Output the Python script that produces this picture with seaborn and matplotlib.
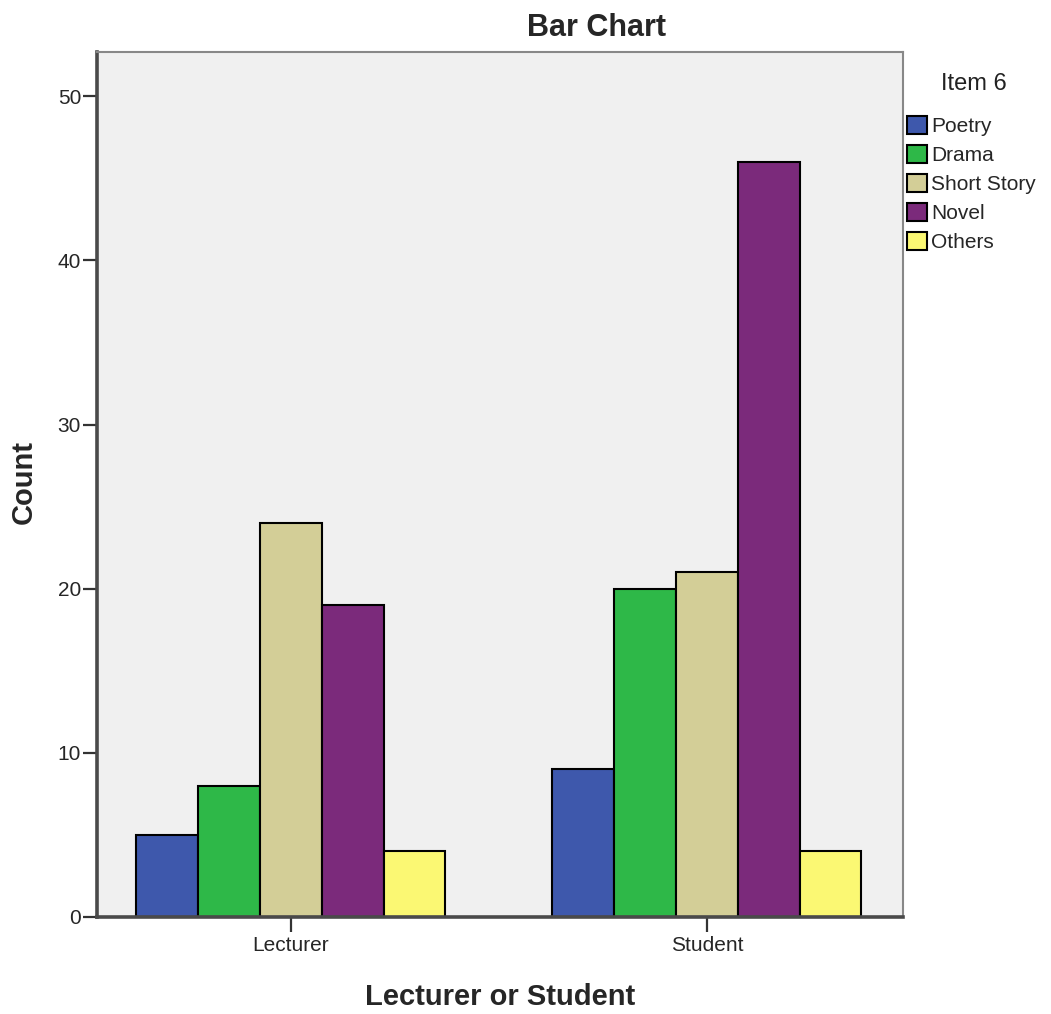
import pandas as pd
import matplotlib.pyplot as plt
import seaborn as sns

groups = ['Lecturer', 'Student']
items = ['Poetry', 'Drama', 'Short Story', 'Novel', 'Others']
lecturer_counts = [5, 8, 24, 19, 4]
student_counts = [9, 20, 21, 46, 4]
colors = ['#3E58AC', '#2EB848', '#D3CE97', '#7B2A7B', '#FBF873']


def make_plot():
    rows = []
    for grp, counts in zip(groups, [lecturer_counts, student_counts]):
        for item, c in zip(items, counts):
            rows.append({'Group': grp, 'Item': item, 'Count': c})
    df = pd.DataFrame(rows)

    sns.set_theme(style="white")
    plt.rcParams['font.family'] = ['Liberation Sans', 'DejaVu Sans']

    fig = plt.figure(figsize=(10.51, 10.14), dpi=100)
    ax = fig.add_axes([0.0923, 0.0957, 0.7667, 0.853])
    ax.set_facecolor('#F0F0F0')

    sns.barplot(data=df, x='Group', y='Count', hue='Item', order=groups,
                hue_order=items, palette=colors, width=0.743,
                edgecolor='black', linewidth=1.5, saturation=1, ax=ax)

    ax.set_xlim(-0.466, 1.471)
    ax.set_ylim(0, 52.7)
    ax.set_yticks([0, 10, 20, 30, 40, 50])
    ax.tick_params(axis='y', labelsize=15, length=10, width=1.6,
                   color='#333333', left=True, pad=1.5)
    ax.tick_params(axis='x', labelsize=15, length=11, width=1.6,
                   color='#333333', bottom=True, pad=3)

    for side in ['left', 'bottom']:
        ax.spines[side].set_color('#4a4a4a')
        ax.spines[side].set_linewidth(2.6)
    for side in ['top', 'right']:
        ax.spines[side].set_color('#888888')
        ax.spines[side].set_linewidth(1.5)

    ax.set_xlabel('')
    ax.set_ylabel('')
    fig.text(0.568, 0.9645, 'Bar Chart', fontsize=22, fontweight='bold',
             ha='center', va='baseline')
    fig.text(0.476, 0.0089, 'Lecturer or Student', fontsize=21,
             fontweight='bold', ha='center', va='baseline')
    fig.text(0.0228, 0.5247, 'Count', fontsize=21, fontweight='bold',
             rotation=90, ha='center', va='center')

    # legend title drawn separately so the gap below it matches
    fig.text(0.9267, 0.917, 'Item 6', fontsize=17, color='#222222',
             ha='center', va='center')
    ax.legend(loc='upper left', bbox_to_anchor=(1.005, 0.926),
              frameon=False, fontsize=15,
              handlelength=0.95, handleheight=0.95, handletextpad=0.2,
              labelspacing=0.42, borderaxespad=0, borderpad=0)

    fig.savefig('out.png', dpi=100)
    plt.close(fig)


if __name__ == "__main__":
    make_plot()
